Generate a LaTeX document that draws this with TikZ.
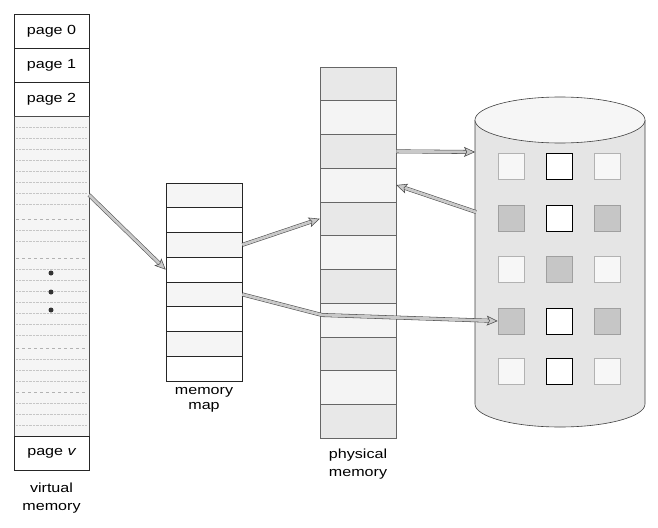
\documentclass[tikz,border=0pt]{standalone}
\usepackage{fontspec}
\setmainfont{Liberation Sans}[FakeStretch=1.22]
\usetikzlibrary{arrows.meta,calc}
\begin{document}
\begin{tikzpicture}[x=1pt,y=-1pt,
  lbl/.style={font=\fontsize{13.2}{18}\selectfont, align=center, inner sep=0pt},
  pg/.style={draw=black!85, line width=0.6pt, minimum width=75pt, minimum height=34pt, inner sep=0pt, font=\fontsize{13.2}{15}\selectfont},
  mrow/.style={draw=black!85, line width=0.6pt, minimum width=76pt, minimum height=24.75pt, inner sep=0pt},
  prow/.style={draw=black!60, line width=0.5pt, minimum width=76pt, minimum height=33.73pt, inner sep=0pt},
  sqlight/.style={draw=gray!60, fill=gray!6, line width=0.5pt, minimum size=26pt, inner sep=0pt},
  sqdark/.style={draw=gray!75, fill=gray!45, line width=0.6pt, minimum size=26pt, inner sep=0pt},
  sqwhite/.style={draw=black, fill=white, line width=0.7pt, minimum size=26pt, inner sep=0pt},
  shaft/.style={draw=black!70, double=gray!42, double distance=2.8pt, line width=0.55pt, shorten >=8pt},
  tipend/.style={draw=black!70, line width=0.55pt, -{Stealth[length=11pt,width=10pt,inset=2.5pt,fill=gray!42]}},
  dotmark/.style={circle, fill=black!80, inner sep=0pt, minimum size=5pt}
]
\useasboundingbox (0,0) rectangle (658,527);

% ---------- virtual memory ----------
\node[pg] (pg0) at (51.5,31) {page 0};
\node[pg] (pg1) at (51.5,65) {page 1};
\node[pg] (pg2) at (51.5,99) {page 2};
\node[draw=black!70, fill=gray!8, line width=0.5pt, minimum width=75pt, minimum height=320pt, inner sep=0pt] (vmid) at (51.5,276) {};
\foreach \yy in {127,138,149,160,171,182,193,204,230,241,269,280,291,302,313,324,335,359,370,381,403,414,425}
  \draw[gray!45, densely dotted, line width=0.4pt] (16,\yy) -- (87,\yy);
\foreach \yy in {219,258,348,392}
  \draw[gray!60, dashed, line width=0.6pt] (16,\yy) -- (87,\yy);
\node[dotmark] (d1) at (51,273) {};
\node[dotmark] (d2) at (51,292) {};
\node[dotmark] (d3) at (51,310) {};
\node[pg] (pgv) at (51.5,453) {page {\itshape v}};
\node[lbl] (vmlab) at (51.5,498) {virtual\\memory};

% ---------- memory map ----------
\foreach \i in {0,...,7} {
  \pgfmathsetmacro{\cy}{183+24.75*(\i+0.5)}
  \ifodd\i
    \node[mrow, fill=white] (m\i) at (204,\cy) {};
  \else
    \node[mrow, fill=gray!8] (m\i) at (204,\cy) {};
  \fi
}
\node[lbl, font=\fontsize{13.2}{15.5}\selectfont] (mmlab) at (204,400) {memory\\map};

% ---------- physical memory ----------
\foreach \i in {0,...,10} {
  \pgfmathsetmacro{\cy}{67+33.73*(\i+0.5)}
  \ifodd\i
    \node[prow, fill=gray!9] (p\i) at (358,\cy) {};
  \else
    \node[prow, fill=gray!18] (p\i) at (358,\cy) {};
  \fi
}
\node[lbl] (pmlab) at (358,464) {physical\\memory};

% ---------- disk ----------
\fill[gray!20] (475,120) -- (475,404) arc[start angle=180,end angle=360,x radius=85pt,y radius=23pt] -- (645,120) -- cycle;
\draw[black!75, line width=0.6pt] (475,120) -- (475,404) arc[start angle=180,end angle=360,x radius=85pt,y radius=23pt] -- (645,120);
\draw[black!75, fill=gray!7, line width=0.6pt] (560,120) ellipse [x radius=85pt, y radius=23pt];

\node[sqlight] (s11) at (511,166) {};
\node[sqwhite] (s12) at (559.5,166) {};
\node[sqlight] (s13) at (607.5,166) {};
\node[sqdark]  (s21) at (511,218.5) {};
\node[sqwhite] (s22) at (559.5,218.5) {};
\node[sqdark]  (s23) at (607.5,218.5) {};
\node[sqlight] (s31) at (511,269.5) {};
\node[sqdark]  (s32) at (559.5,269.5) {};
\node[sqlight] (s33) at (607.5,269.5) {};
\node[sqdark]  (s41) at (511,321) {};
\node[sqwhite] (s42) at (559.5,321) {};
\node[sqdark]  (s43) at (607.5,321) {};
\node[sqlight] (s51) at (511,371.5) {};
\node[sqwhite] (s52) at (559.5,371.5) {};
\node[sqlight] (s53) at (607.5,371.5) {};

% ---------- arrows ----------
\coordinate (vmout) at (89,195);
\coordinate (bend) at (322,315);
\coordinate (diskin) at (475,152);
\coordinate (diskout) at (476,212);

\draw[shaft] (vmout) -- (m3.west);
\draw[tipend] ($(m3.west)!1pt!(vmout)$) -- (m3.west);

\draw[shaft] (m2.east) -- (p4.west);
\draw[tipend] ($(p4.west)!1pt!(m2.east)$) -- (p4.west);

\draw[shaft] (m4.east) -- (bend) -- (s41.west);
\draw[tipend] ($(s41.west)!1pt!(bend)$) -- (s41.west);

\draw[shaft] (p2.east) -- (diskin);
\draw[tipend] ($(diskin)!1pt!(p2.east)$) -- (diskin);

\draw[shaft] (diskout) -- (p3.east);
\draw[tipend] ($(p3.east)!1pt!(diskout)$) -- (p3.east);
\end{tikzpicture}
\end{document}
